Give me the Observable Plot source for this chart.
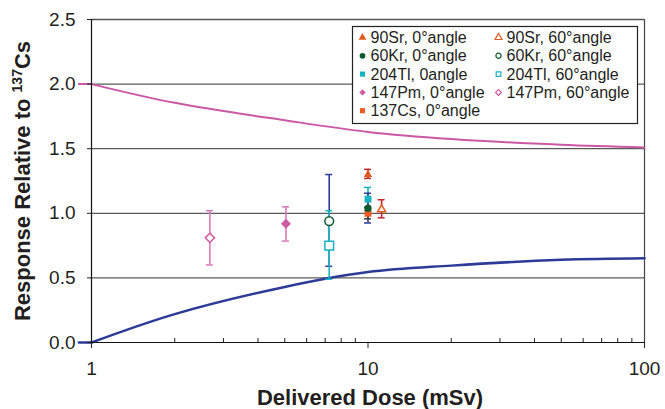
<!DOCTYPE html>
<html><head><meta charset="utf-8">
<script src="https://cdn.jsdelivr.net/npm/d3@7"></script>
<script src="https://cdn.jsdelivr.net/npm/@observablehq/plot@0.6"></script>
<style>body{margin:0;background:#fff} svg{display:block}</style>
</head><body><div id="chart"></div>
<script>
// ---- data ----
const curveDose = [0.9, 1, 2, 5, 10, 20, 50, 100];
const upperCurve = [2.0, 2.0, 1.855, 1.72, 1.63, 1.575, 1.53, 1.51];
const lowerCurve = [0.0, 0.0, 0.22, 0.43, 0.545, 0.595, 0.64, 0.652];

const seriesNames = ["90Sr, 0°angle", "90Sr, 60°angle", "60Kr, 0°angle", "60Kr, 60°angle",
  "204Tl, 0angle", "204Tl, 60°angle", "147Pm, 0°angle", "147Pm, 60°angle", "137Cs, 0°angle"];
const pointDose  = [10.0, 11.2, 10.0, 7.24, 10.0, 7.24, 5.05, 2.68, 10.0];
const pointValue = [1.30, 1.03, 1.04, 0.94, 1.11, 0.75, 0.92, 0.81, 1.00];
const errLow     = [1.27, 0.965, 0.925, 0.59, 1.02, 0.49, 0.785, 0.60, 0.957];
const errHigh    = [1.34, 1.105, 1.155, 1.30, 1.20, 1.02, 1.05, 1.02, 1.045];

const xTicks = [1, 10, 100];
const xMinorTicks = [2, 3, 4, 5, 6, 7, 8, 9, 20, 30, 40, 50, 60, 70, 80, 90];
const yTicks = [0, 0.5, 1, 1.5, 2, 2.5];
const gridValues = [0.5, 1, 1.5, 2];

// ---- styles ----
const ORANGE = "#df5a1e", GREEN = "#0e5a2e", CYAN = "#18b2c0", PINK = "#d05aa6", CS = "#f15a24";
const styles = [
  {symbol: "triangle", r: 3.1, fill: ORANGE, stroke: "none", err: "#c1272d"},
  {symbol: "triangle", r: 3.0, fill: "white", stroke: ORANGE, err: "#c1272d"},
  {symbol: "circle", r: 3.6, fill: GREEN, stroke: "none", err: "#2b3a8f"},
  {symbol: "circle", r: 4.4, fill: "white", stroke: GREEN, err: "#2b3a97"},
  {symbol: "square", r: 3.9, fill: CYAN, stroke: "none", err: CYAN},
  {symbol: "square", r: 4.9, fill: "white", stroke: CYAN, err: CYAN},
  {symbol: "diamond2", r: 4.5, fill: PINK, stroke: "none", err: "#d77bb9"},
  {symbol: "diamond2", r: 4.2, fill: "white", stroke: PINK, err: "#d77bb9"},
  {symbol: "square", r: 3.9, fill: CS, stroke: "none", err: "#3a3a3a"}
];
const errOrder = [3, 5, 7, 6, 0, 1, 4, 2, 8];
const dotOrder = [7, 6, 3, 5, 0, 1, 4, 8, 2];

const rows = seriesNames.map((name, i) => ({name, dose: pointDose[i], value: pointValue[i], lo: errLow[i], hi: errHigh[i]}));
// split each curve into the short stub left of x=1 and the smooth main part
const curveRows = vals => curveDose.flatMap((d, i) => {
  const out = [];
  if (i <= 1) out.push({dose: d, v: vals[i], part: "stub"});
  if (i >= 1) out.push({dose: d, v: vals[i], part: "main"});
  return out;
});
const upperData = curveRows(upperCurve);
const lowerData = curveRows(lowerCurve);

const marks = [
  Plot.ruleY(gridValues, {stroke: "#333", strokeWidth: 1}),
  Plot.ruleY([yTicks[yTicks.length - 1]], {stroke: "#555", strokeWidth: 1.5}),
  Plot.ruleX([xTicks[xTicks.length - 1]], {stroke: "#444", strokeWidth: 1.2}),
  Plot.line(upperData, {x: "dose", y: "v", z: "part", stroke: "#cc58a5", strokeWidth: 2, curve: "catmull-rom"}),
  Plot.line(lowerData, {x: "dose", y: "v", z: "part", stroke: "#2c3a98", strokeWidth: 2.5, curve: "catmull-rom"})
];
for (const i of errOrder) {
  const st = styles[i], d = [rows[i]];
  marks.push(Plot.ruleX(d, {x: "dose", y1: "lo", y2: "hi", stroke: st.err, strokeWidth: 1.6}));
  marks.push(Plot.ruleY(d, {y: "lo", x1: "dose", x2: "dose", insetLeft: -3.5, insetRight: -3.5, stroke: st.err, strokeWidth: 1.5}));
  marks.push(Plot.ruleY(d, {y: "hi", x1: "dose", x2: "dose", insetLeft: -3.5, insetRight: -3.5, stroke: st.err, strokeWidth: 1.5}));
}
for (const i of dotOrder) {
  const st = styles[i];
  marks.push(Plot.dot([rows[i]], {x: "dose", y: "value", symbol: st.symbol, r: st.r, fill: st.fill,
    stroke: st.stroke, strokeWidth: st.stroke === "none" ? 0 : 1.5}));
}
marks.push(
  Plot.ruleY([0], {stroke: "#111", strokeWidth: 1.2}),
  Plot.ruleX([1], {stroke: "#111", strokeWidth: 1.2}),
  Plot.axisX(xMinorTicks, {tickSize: -4, tickFormat: () => "", label: null, stroke: "#222"}),
  Plot.axisX(xTicks, {tickSize: 6, tickPadding: 13, fontSize: 19, label: null, tickFormat: d => String(d), stroke: "#222", fill: "#231f20"}),
  Plot.axisY(yTicks, {tickSize: 4, tickPadding: 12, fontSize: 19, label: null, tickFormat: d3.format(".1f"), stroke: "#222", fill: "#231f20"})
);

const svg = Plot.plot({
  width: 665, height: 409,
  marginLeft: 91, marginRight: 21, marginTop: 19, marginBottom: 67,
  x: {type: "log", domain: [1, 100]},
  y: {domain: [0, 2.5]},
  style: {fontFamily: "'Liberation Sans', Arial, sans-serif", background: "white", color: "#231f20"},
  marks
});

const s = d3.select(svg);
// y label
const yl = s.append("text").attr("transform", "translate(30,181) rotate(-90)")
  .attr("text-anchor", "middle").attr("font-weight", "bold").attr("font-size", 22).attr("fill", "#231f20");
yl.append("tspan").text("Response Relative to ");
yl.append("tspan").attr("font-size", 14).attr("dy", -8).text("137");
yl.append("tspan").attr("dy", 8).text("Cs");
// x label
s.append("text").attr("x", 370).attr("y", 405).attr("text-anchor", "middle")
  .attr("font-weight", "bold").attr("font-size", 22).attr("fill", "#231f20").text("Delivered Dose (mSv)");

// legend
const symbolTypes = {triangle: d3.symbolTriangle, circle: d3.symbolCircle, square: d3.symbolSquare, diamond2: d3.symbolDiamond2};
const lg = s.append("g").attr("text-anchor", "start");
lg.append("rect").attr("x", 352.5).attr("y", 26.5).attr("width", 285).attr("height", 97)
  .attr("fill", "white").attr("stroke", "#222").attr("stroke-width", 1.2);
const legendCols = [[0, 2, 4, 6, 8], [1, 3, 5, 7]];
legendCols.forEach((col, c) => col.forEach((i, k) => {
  const cy = 37.5 + k * 18.3;
  const mx = c ? 498.5 : 362.5;
  const st = styles[i];
  const lr = st.fill === "white" ? 2.6 : 2.9;
  lg.append("path").attr("transform", `translate(${mx},${cy})`)
    .attr("d", d3.symbol(symbolTypes[st.symbol], Math.PI * lr * lr)())
    .attr("fill", st.fill).attr("stroke", st.stroke).attr("stroke-width", st.stroke === "none" ? 0 : 1.2);
  lg.append("text").attr("x", mx + 8).attr("y", cy + 5.6).attr("text-anchor", "start")
    .attr("font-size", 16).attr("fill", "#231f20").text(seriesNames[i]);
}));

document.getElementById("chart").appendChild(svg);
</script>
</body></html>
